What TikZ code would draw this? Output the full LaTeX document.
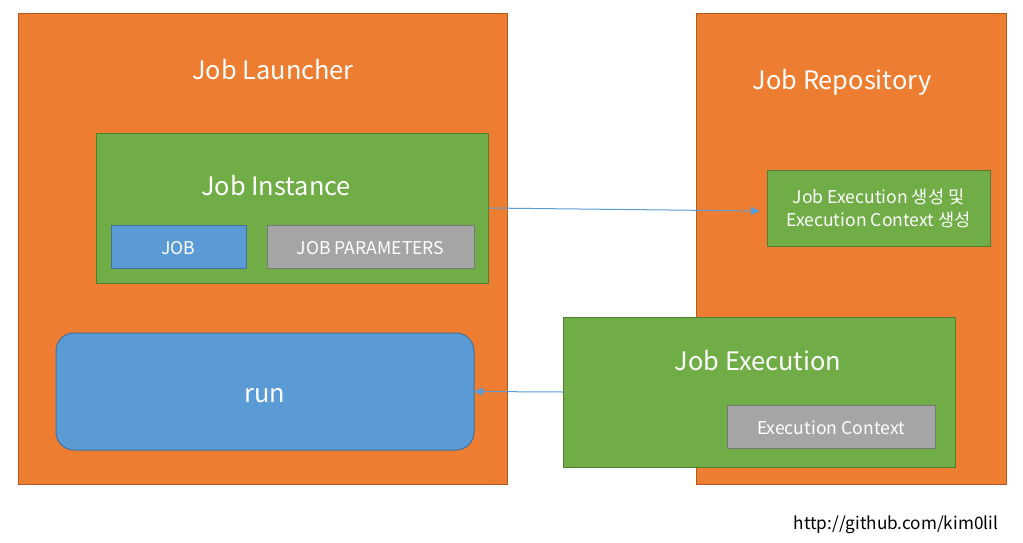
\documentclass[tikz,border=0pt]{standalone}
\usepackage{fontspec}
\setmainfont{Noto Sans CJK KR}
\usetikzlibrary{arrows.meta}

\definecolor{boxorange}{HTML}{ED7D31}
\definecolor{lineorange}{HTML}{AE5A21}
\definecolor{boxgreen}{HTML}{70AD47}
\definecolor{linegreen}{HTML}{507E32}
\definecolor{boxblue}{HTML}{5B9BD5}
\definecolor{lineblue}{HTML}{41719C}
\definecolor{boxgray}{HTML}{A5A5A5}
\definecolor{linegray}{HTML}{787878}

% lower a text without changing the size TikZ sees
\newcommand{\dropby}[2]{\raisebox{-#1}[\height][\depth]{#2}}

\tikzset{
  orangebox/.style={draw=lineorange, fill=boxorange, line width=1pt, inner sep=0pt, outer sep=0pt},
  greenbox/.style={draw=linegreen, fill=boxgreen, line width=1pt, inner sep=0pt, outer sep=0pt},
  bluebox/.style={draw=lineblue, fill=boxblue, line width=1pt, inner sep=0pt, outer sep=0pt},
  graybox/.style={draw=linegray, fill=boxgray, line width=1pt, inner sep=0pt, outer sep=0pt},
  bigtext/.style={text=white, font=\fontsize{25.4}{30}\selectfont},
  smalltext/.style={text=white, font=\fontsize{17.6}{23}\selectfont},
  link/.style={draw=boxblue, line width=1pt, -{Triangle[length=9pt, width=8pt]}}
}

\begin{document}
\begin{tikzpicture}[x=1pt, y=-1pt]

    % Fix the page to the size of the reference
    \useasboundingbox (0,0) rectangle (1023,542);

    % The two big outer boxes
    \node[orangebox, minimum width=489pt, minimum height=471pt] (launcher) at (262.5,248.5) {};
    \node[orangebox, minimum width=310pt, minimum height=471pt] (repository) at (851,248.5) {};

    % Their titles
    \node[bigtext] (launchertitle) at (273,70) {Job Launcher};
    \node[bigtext] (repositorytitle) at (842,82) {Job Repository};

    % Job Instance with its two parts
    \node[greenbox, minimum width=392pt, minimum height=150pt] (instance) at (292,208) {};
    \node[bigtext] (instancetitle) at (276,186) {Job Instance};
    \node[bluebox, smalltext, minimum width=135pt, minimum height=43pt] (job) at (178.5,246.5) {\dropby{1.5pt}{JOB}};
    \node[graybox, smalltext, minimum width=207pt, minimum height=43pt] (params) at (370.5,246.5) {\dropby{1.5pt}{JOB PARAMETERS}};

    % The run block
    \node[bluebox, bigtext, rounded corners=18pt, minimum width=418pt, minimum height=117pt] (run) at (265,391.5) {\dropby{4pt}{run}};

    % Creation step inside the repository
    \node[greenbox, smalltext, align=center, minimum width=223pt, minimum height=76pt] (create) at (878.5,208)
        {Job Execution 생성 및\\Execution Context 생성};

    % Job Execution with its context
    \node[greenbox, minimum width=392pt, minimum height=150pt] (execution) at (759,392) {};
    \node[bigtext] (executiontitle) at (758,361) {Job Execution};
    \node[graybox, smalltext, minimum width=208pt, minimum height=43pt] (context) at (831,426.5) {\dropby{1.5pt}{Execution Context}};

    % Connectors
    \draw[link] (instance.east) -- ([shift={(-7,3)}]create.west);
    \draw[link] (execution.west) -- (run.east);

    % Source note
    \node[font=\fontsize{17.2}{21}\selectfont] (url) at (896,525) {http://github.com/kim0lil};

\end{tikzpicture}
\end{document}
